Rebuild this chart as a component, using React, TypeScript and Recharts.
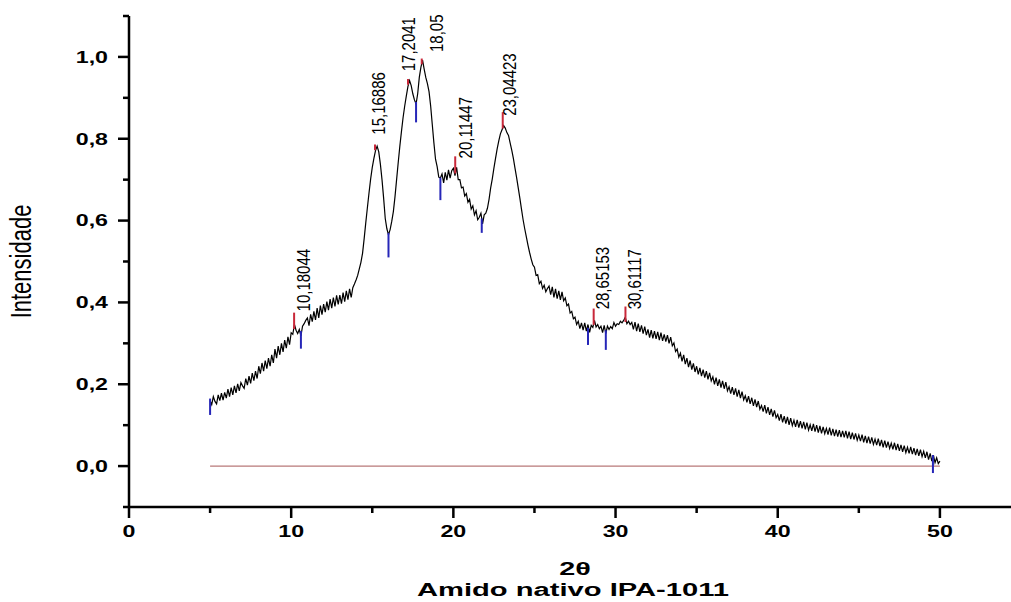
import React from 'react';
import { ComposedChart, Line, XAxis, YAxis, ReferenceLine, ReferenceDot } from 'recharts';

// difratograma: 2θ de 5 a 50 em passos de 0,1
const angleStart = 5;
const angleStep = 0.1;
const intensity = [
  0.160, 0.150, 0.170, 0.158, 0.152, 0.174, 0.160, 0.178, 0.161, 0.180,
  0.166, 0.188, 0.170, 0.192, 0.174, 0.196, 0.179, 0.201, 0.184, 0.204,
  0.196, 0.190, 0.214, 0.198, 0.220, 0.202, 0.227, 0.209, 0.232, 0.214,
  0.244, 0.226, 0.252, 0.232, 0.258, 0.238, 0.264, 0.244, 0.272, 0.252,
  0.286, 0.264, 0.293, 0.272, 0.300, 0.279, 0.308, 0.288, 0.316, 0.297,
  0.326, 0.322, 0.346, 0.332, 0.324, 0.334, 0.318, 0.342, 0.348, 0.356,
  0.362, 0.343, 0.371, 0.353, 0.378, 0.357, 0.386, 0.362, 0.392, 0.370,
  0.396, 0.376, 0.402, 0.381, 0.408, 0.386, 0.412, 0.390, 0.417, 0.395,
  0.418, 0.397, 0.424, 0.402, 0.428, 0.407, 0.433, 0.412, 0.436, 0.445,
  0.455, 0.466, 0.482, 0.498, 0.520, 0.556, 0.595, 0.632, 0.668, 0.702,
  0.730, 0.752, 0.771, 0.782, 0.768, 0.738, 0.700, 0.655, 0.605, 0.580,
  0.565, 0.578, 0.598, 0.622, 0.658, 0.700, 0.742, 0.782, 0.818, 0.852,
  0.880, 0.905, 0.928, 0.942, 0.930, 0.910, 0.895, 0.885, 0.910, 0.950,
  0.975, 0.992, 0.970, 0.950, 0.935, 0.915, 0.880, 0.835, 0.790, 0.750,
  0.732, 0.706, 0.704, 0.714, 0.692, 0.718, 0.699, 0.724, 0.704, 0.722,
  0.728, 0.710, 0.730, 0.700, 0.700, 0.680, 0.682, 0.660, 0.666, 0.645,
  0.652, 0.628, 0.636, 0.614, 0.624, 0.602, 0.608, 0.618, 0.592, 0.614,
  0.618, 0.630, 0.652, 0.680, 0.702, 0.728, 0.752, 0.775, 0.795, 0.812,
  0.822, 0.832, 0.826, 0.815, 0.808, 0.790, 0.772, 0.752, 0.728, 0.705,
  0.680, 0.655, 0.628, 0.602, 0.580, 0.560, 0.540, 0.522, 0.506, 0.492,
  0.486, 0.466, 0.468, 0.446, 0.452, 0.434, 0.442, 0.426, 0.434, 0.440,
  0.419, 0.438, 0.412, 0.433, 0.409, 0.428, 0.406, 0.426, 0.404, 0.411,
  0.392, 0.396, 0.374, 0.378, 0.360, 0.364, 0.346, 0.354, 0.336, 0.350,
  0.332, 0.350, 0.330, 0.346, 0.327, 0.344, 0.339, 0.356, 0.340, 0.346,
  0.336, 0.342, 0.326, 0.344, 0.324, 0.342, 0.334, 0.341, 0.336, 0.351,
  0.342, 0.348, 0.346, 0.354, 0.350, 0.356, 0.364, 0.348, 0.354, 0.346,
  0.351, 0.334, 0.352, 0.330, 0.348, 0.328, 0.344, 0.324, 0.341, 0.320,
  0.334, 0.314, 0.332, 0.312, 0.330, 0.311, 0.328, 0.308, 0.326, 0.306,
  0.322, 0.304, 0.320, 0.300, 0.315, 0.294, 0.301, 0.280, 0.286, 0.266,
  0.276, 0.256, 0.272, 0.249, 0.264, 0.242, 0.258, 0.236, 0.251, 0.230,
  0.244, 0.224, 0.240, 0.220, 0.236, 0.216, 0.232, 0.212, 0.228, 0.208,
  0.218, 0.200, 0.216, 0.196, 0.212, 0.192, 0.208, 0.189, 0.205, 0.184,
  0.194, 0.177, 0.193, 0.174, 0.190, 0.170, 0.186, 0.166, 0.182, 0.162,
  0.172, 0.156, 0.171, 0.152, 0.167, 0.147, 0.163, 0.144, 0.159, 0.139,
  0.148, 0.133, 0.149, 0.129, 0.144, 0.125, 0.140, 0.121, 0.136, 0.118,
  0.126, 0.111, 0.127, 0.107, 0.122, 0.104, 0.120, 0.101, 0.117, 0.099,
  0.112, 0.096, 0.113, 0.094, 0.110, 0.092, 0.108, 0.090, 0.106, 0.088,
  0.101, 0.086, 0.103, 0.084, 0.100, 0.082, 0.098, 0.080, 0.096, 0.079,
  0.092, 0.077, 0.094, 0.075, 0.091, 0.073, 0.089, 0.072, 0.088, 0.071,
  0.086, 0.070, 0.086, 0.068, 0.084, 0.066, 0.082, 0.065, 0.080, 0.063,
  0.076, 0.061, 0.077, 0.058, 0.074, 0.056, 0.072, 0.055, 0.070, 0.053,
  0.066, 0.051, 0.067, 0.049, 0.064, 0.046, 0.062, 0.045, 0.060, 0.043,
  0.056, 0.041, 0.057, 0.039, 0.054, 0.037, 0.052, 0.035, 0.050, 0.033,
  0.046, 0.031, 0.047, 0.029, 0.044, 0.027, 0.042, 0.025, 0.040, 0.023,
  0.036, 0.020, 0.035, 0.016, 0.031, 0.012, 0.027, 0.008, 0.020, 0.006,
  0.012,
];

const xTicks = [0, 5, 10, 15, 20, 25, 30, 35, 40, 45, 50];
const yTicks = [-0.1, 0, 0.1, 0.2, 0.3, 0.4, 0.5, 0.6, 0.7, 0.8, 0.9, 1.0, 1.1];

// picos (marcas vermelhas) e rótulos
const peakLabels = ['10,18044', '15,16886', '17,2041', '18,05', '20,11447', '23,04423', '28,65153', '30,61117'];
const peakAngles = [10.18044, 15.16886, 17.2041, 18.05, 20.11447, 23.04423, 28.65153, 30.61117];
const peakLow = [0.335, 0.772, 0.932, 0.982, 0.715, 0.825, 0.345, 0.352];
const peakHigh = [0.375, 0.786, 0.946, 0.996, 0.757, 0.865, 0.385, 0.39];
const labelAngles = [10.73, 15.35, 17.2, 18.97, 20.72, 23.47, 29.2, 31.15];
const labelBase = [0.378, 0.81, 0.965, 1.012, 0.752, 0.856, 0.383, 0.383];

// vales (marcas azuis)
const valleyAngles = [5.0, 10.6, 16.0, 17.7, 19.2, 21.75, 28.3, 29.4, 49.57];
const valleyHigh = [0.165, 0.33, 0.57, 0.89, 0.705, 0.605, 0.338, 0.332, 0.027];
const valleyLow = [0.125, 0.287, 0.51, 0.84, 0.65, 0.57, 0.296, 0.284, -0.017];

const baselineAngles = [5, 50];
const baselineLevel = 0;

const scan = intensity.map((v, i) => ({ angle: +(angleStart + i * angleStep).toFixed(1), intensity: v }));
const baseline = baselineAngles.map((a) => ({ angle: a, base: baselineLevel }));

const FONT = '"Liberation Sans", Arial, Helvetica, sans-serif';
const STRETCH = 1.45;

const XTick = (props: any) => {
  const { x, y, payload } = props;
  const v = payload.value;
  const major = v % 10 === 0;
  return (
    <g>
      <line x1={x} x2={x} y1={y} y2={y + (major ? 11 : 6)} stroke="#000" strokeWidth={2.5} />
      {major && (
        <text transform={`translate(${x},${y + 24}) scale(${STRETCH},1)`} y={5.8} textAnchor="middle"
          fontFamily={FONT} fontWeight="bold" fontSize={16} fill="#000">{v}</text>
      )}
    </g>
  );
};

const YTick = (props: any) => {
  const { x, y, payload } = props;
  const v = payload.value;
  const major = Math.abs(Math.round(v * 10) % 2) === 0;
  return (
    <g>
      <line x1={x} x2={x - (major ? 11 : 6)} y1={y} y2={y} stroke="#000" strokeWidth={2.5} />
      {major && (
        <text transform={`translate(${x - 21},${y}) scale(${STRETCH},1)`} y={5.8} textAnchor="end"
          fontFamily={FONT} fontWeight="bold" fontSize={16} fill="#000">{v.toFixed(1).replace('.', ',')}</text>
      )}
    </g>
  );
};

const XTitle = (props: any) => {
  const vb = props.viewBox;
  const cx = vb.x + vb.width / 2;
  return (
    <g fontFamily={FONT} fontWeight="bold" fill="#000">
      <text transform={`translate(${cx},${vb.y + 68}) scale(1.6,1)`} textAnchor="middle" fontSize={18}>2θ</text>
      <text transform={`translate(${cx - 2},${vb.y + 89}) scale(1.62,1)`} textAnchor="middle" fontSize={18}>Amido nativo IPA-1011</text>
    </g>
  );
};

const YTitle = (props: any) => {
  const vb = props.viewBox;
  const cy = vb.y + vb.height / 2;
  return (
    <text transform={`translate(21,${cy}) rotate(-90) scale(1,1.3)`} y={8} textAnchor="middle"
      fontFamily={FONT} fontSize={22} fill="#000">Intensidade</text>
  );
};

const PeakLabel = (text: string) => (props: any) => {
  const { cx, cy } = props;
  return (
    <text transform={`translate(${cx},${cy}) rotate(-90) scale(1,1.25)`} y={5.4} textAnchor="start"
      fontFamily={FONT} fontSize={15} fill="#000">{text}</text>
  );
};

export default function App() {
  return (
    <div style={{ position: 'absolute', left: 0, top: 0, width: 1011, height: 602, overflow: 'hidden', background: '#fff' }}>
      <ComposedChart width={1021} height={602} data={scan} margin={{ top: 16, right: 0, bottom: 0, left: 0 }}>
        <XAxis dataKey="angle" type="number" domain={[0, 55]} ticks={xTicks} interval={0}
          axisLine={{ stroke: '#000', strokeWidth: 2.5 }} tickLine={false} tickSize={0} tickMargin={0}
          tick={<XTick />} height={95} allowDataOverflow label={{ content: <XTitle /> }} />
        <YAxis type="number" domain={[-0.1, 1.1]} ticks={yTicks} interval={0}
          axisLine={{ stroke: '#000', strokeWidth: 2.5 }} tickLine={false} tickSize={0} tickMargin={0}
          tick={<YTick />} width={129} allowDataOverflow label={{ content: <YTitle /> }} />
        <Line data={baseline} dataKey="base" stroke="#b87878" strokeWidth={1.2} dot={false}
          isAnimationActive={false} type="linear" />
        <Line dataKey="intensity" stroke="#000" strokeWidth={1.2} dot={false}
          isAnimationActive={false} type="linear" />
        {peakAngles.map((a, i) => (
          <ReferenceLine key={`p${i}`} segment={[{ x: a, y: peakLow[i] }, { x: a, y: peakHigh[i] }]}
            stroke="#c8283a" strokeWidth={2} ifOverflow="visible" />
        ))}
        {valleyAngles.map((a, i) => (
          <ReferenceLine key={`v${i}`} segment={[{ x: a, y: valleyLow[i] }, { x: a, y: valleyHigh[i] }]}
            stroke="#2626b8" strokeWidth={2} ifOverflow="visible" />
        ))}
        {labelAngles.map((a, i) => (
          <ReferenceDot key={`l${i}`} x={a} y={labelBase[i]} r={0} ifOverflow="visible"
            shape={PeakLabel(peakLabels[i])} />
        ))}
      </ComposedChart>
    </div>
  );
}
